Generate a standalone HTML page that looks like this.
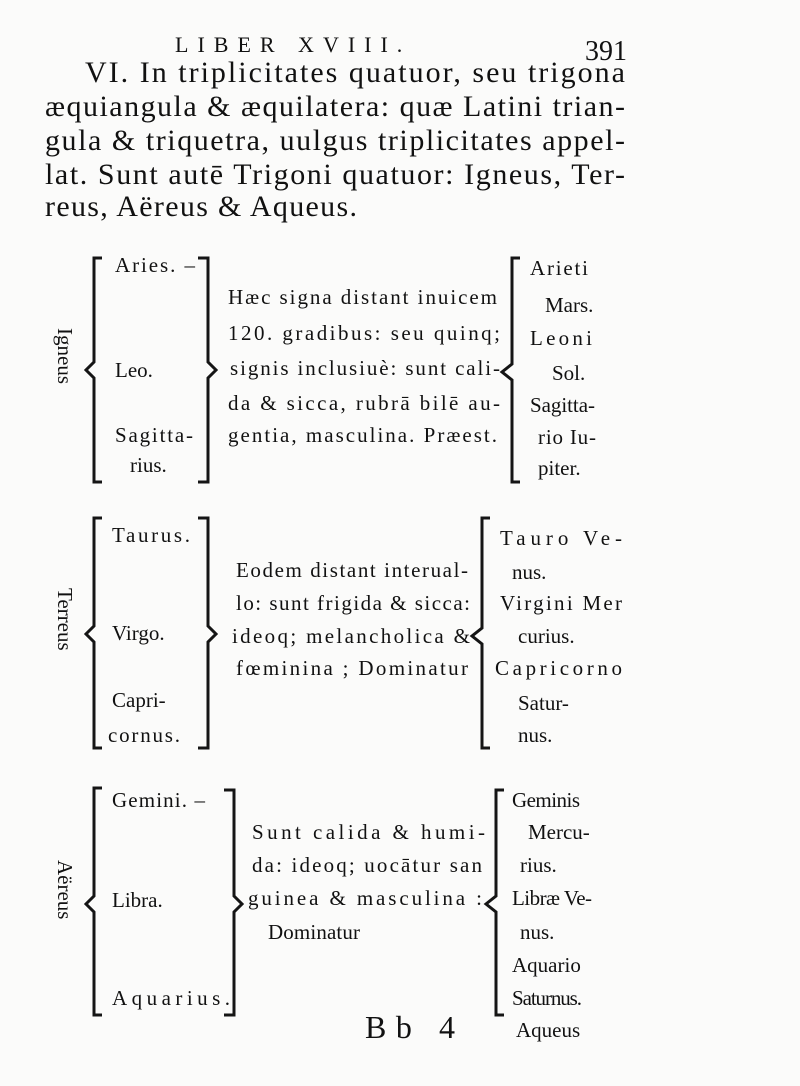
<!DOCTYPE html>
<html><head><meta charset="utf-8"><style>
html,body{margin:0;padding:0;background:#fbfbfa;}
svg{display:block}
text{font-family:"Liberation Serif",serif;fill:#111;}
.p{font-size:30px;}
.s{font-size:21px;}
.b{fill:none;stroke:#151515;stroke-width:3;}
</style></head><body>
<svg width="800" height="1086" viewBox="0 0 800 1086">
<rect width="800" height="1086" fill="#fbfbfa"/>
<text x="175" y="52" style="font-size:22px;letter-spacing:9px">LIBER XVIII.</text>
<text x="585" y="60" style="font-size:28px">391</text>
<text class="p" x="85" y="82" textLength="540">VI. In triplicitates quatuor, seu trigona</text>
<text class="p" x="45" y="116" textLength="580">æquiangula &amp; æquilatera: quæ Latini trian-</text>
<text class="p" x="45" y="150" textLength="580">gula &amp; triquetra, uulgus triplicitates appel-</text>
<text class="p" x="45" y="184" textLength="580">lat. Sunt autē Trigoni quatuor: Igneus, Ter-</text>
<text class="p" x="45" y="216" textLength="312">reus, Aëreus &amp; Aqueus.</text>

<!-- Section 1 -->
<text class="s" transform="translate(58,328) rotate(90)">Igneus</text>
<path class="b" d="M102,258 H94 V362 L86,370 L94,378 V482 H102"/>
<path class="b" d="M198,258 H208 V362 L216,370 L208,378 V482 H198"/>
<path class="b" d="M520,258 H512 V364 L502,372 L512,380 V482 H520"/>
<text class="s" x="115" y="272" textLength="80">Aries. –</text>
<text class="s" x="115" y="377">Leo.</text>
<text class="s" x="115" y="442" textLength="78">Sagitta-</text>
<text class="s" x="130" y="472">rius.</text>
<text class="s" x="228" y="304" textLength="269">Hæc signa distant inuicem</text>
<text class="s" x="228" y="340" textLength="272">120. gradibus: seu quinq;</text>
<text class="s" x="230" y="375" textLength="270">signis inclusiuè: sunt cali-</text>
<text class="s" x="228" y="410" textLength="272">da &amp; sicca, rubrā bilē au-</text>
<text class="s" x="228" y="442" textLength="269">gentia, masculina. Præest.</text>
<text class="s" x="530" y="275" textLength="58">Arieti</text>
<text class="s" x="545" y="312">Mars.</text>
<text class="s" x="530" y="345" textLength="62">Leoni</text>
<text class="s" x="552" y="380">Sol.</text>
<text class="s" x="530" y="412" textLength="65">Sagitta-</text>
<text class="s" x="538" y="444" textLength="58">rio Iu-</text>
<text class="s" x="538" y="475">piter.</text>

<!-- Section 2 -->
<text class="s" transform="translate(58,588) rotate(90)">Terreus</text>
<path class="b" d="M102,518 H94 V626 L86,634 L94,642 V748 H102"/>
<path class="b" d="M198,518 H208 V626 L216,634 L208,642 V748 H198"/>
<path class="b" d="M490,518 H482 V628 L472,636 L482,644 V748 H490"/>
<text class="s" x="112" y="542" textLength="78">Taurus.</text>
<text class="s" x="112" y="640">Virgo.</text>
<text class="s" x="112" y="707">Capri-</text>
<text class="s" x="108" y="742" textLength="72">cornus.</text>
<text class="s" x="236" y="577" textLength="232">Eodem distant interual-</text>
<text class="s" x="236" y="610" textLength="234">lo: sunt frigida &amp; sicca:</text>
<text class="s" x="232" y="643" textLength="238">ideoq; melancholica &amp;</text>
<text class="s" x="236" y="675" textLength="232">fœminina ; Dominatur</text>
<text class="s" x="500" y="545" textLength="122">Tauro  Ve-</text>
<text class="s" x="512" y="579">nus.</text>
<text class="s" x="500" y="610" textLength="122">Virgini Mer</text>
<text class="s" x="518" y="643">curius.</text>
<text class="s" x="495" y="675" textLength="127">Capricorno</text>
<text class="s" x="518" y="710">Satur-</text>
<text class="s" x="518" y="742">nus.</text>

<!-- Section 3 -->
<text class="s" transform="translate(58,860) rotate(90)">Aëreus</text>
<path class="b" d="M102,788 H94 V896 L86,904 L94,912 V1015 H102"/>
<path class="b" d="M224,790 H234 V896 L242,904 L234,912 V1015 H224"/>
<path class="b" d="M504,790 H496 V896 L486,904 L496,912 V1015 H504"/>
<text class="s" x="112" y="807" textLength="93">Gemini. –</text>
<text class="s" x="112" y="907">Libra.</text>
<text class="s" x="112" y="1005" textLength="118">Aquarius.</text>
<text class="s" x="252" y="839" textLength="233">Sunt calida &amp; humi-</text>
<text class="s" x="252" y="872" textLength="230">da: ideoq; uocātur san</text>
<text class="s" x="248" y="905" textLength="234">guinea &amp; masculina :</text>
<text class="s" x="268" y="939" textLength="92">Dominatur</text>
<text class="s" x="512" y="807" textLength="68">Geminis</text>
<text class="s" x="528" y="839">Mercu-</text>
<text class="s" x="520" y="872">rius.</text>
<text class="s" x="512" y="905" textLength="80">Libræ Ve-</text>
<text class="s" x="520" y="939">nus.</text>
<text class="s" x="512" y="972">Aquario</text>
<text class="s" x="512" y="1005" textLength="70">Saturnus.</text>
<text class="s" x="516" y="1037">Aqueus</text>
<text x="365" y="1038" style="font-size:32px" textLength="90">Bb  4</text>
</svg>
</body></html>
